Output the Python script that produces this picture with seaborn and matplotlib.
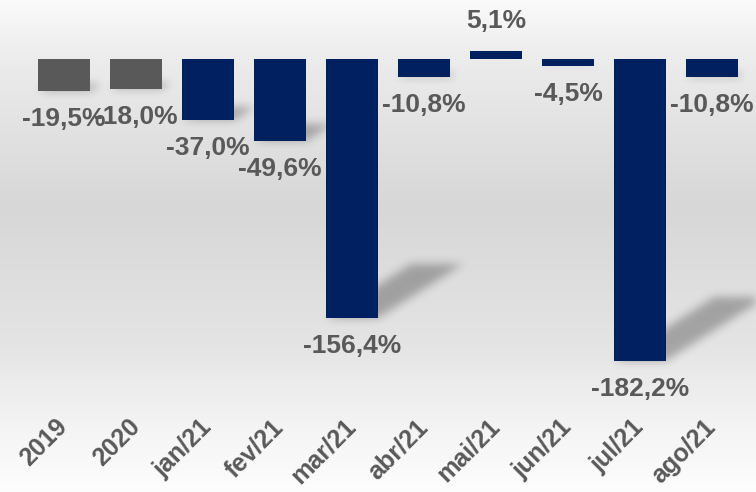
import numpy as np
import pandas as pd
import matplotlib
matplotlib.use("Agg")
import matplotlib.pyplot as plt
import seaborn as sns

categories = ["2019", "2020", "jan/21", "fev/21", "mar/21", "abr/21",
              "mai/21", "jun/21", "jul/21", "ago/21"]
values = [-19.5, -18.0, -37.0, -49.6, -156.4, -10.8, 5.1, -4.5, -182.2, -10.8]
bar_colors = ["#595959", "#595959", "#002060", "#002060", "#002060", "#002060",
              "#002060", "#002060", "#002060", "#002060"]

sns.set_style("white")
plt.rcParams["font.family"] = ["Liberation Sans", "DejaVu Sans"]

TEXT = "#595959"
fig = plt.figure(figsize=(7.56, 4.92), dpi=100)

# background gradient
bg = fig.add_axes([0, 0, 1, 1], zorder=0)
stops_pos = [0.0, 0.12, 0.42, 0.7, 0.88, 1.0]
stops_val = [250, 236, 215, 228, 245, 253]
yy = np.linspace(0, 1, 492)
g = np.interp(yy, stops_pos, stops_val) / 255.0
grad = np.repeat(g[:, None], 4, axis=1)
bg.imshow(np.dstack([grad, grad, grad]), aspect="auto", extent=(0, 1, 0, 1),
          origin="upper", interpolation="bilinear")
bg.set_axis_off()

ax = fig.add_axes([0, 112 / 492, 1, 380 / 492], zorder=1)
ax.patch.set_alpha(0)

df = pd.DataFrame({"cat": categories, "val": values})
bar_w = 0.72
sns.barplot(data=df, x="cat", y="val", hue="cat", palette=bar_colors,
            legend=False, width=bar_w, saturation=1, ax=ax, zorder=3,
            linewidth=0, edgecolor="none")

XLIM = (-0.889, 9.611)
YLIM = (-193.8, 35.6)
ax.set_xlim(*XLIM)
ax.set_ylim(*YLIM)

# perspective shadows
bbox = ax.get_window_extent()
W, H = int(round(bbox.width)), int(round(bbox.height))
X = bbox.x0 + np.arange(W) + 0.5
Y = bbox.y1 - (np.arange(H) + 0.5)
XX, YY = np.meshgrid(X, Y)
mask = np.zeros((H, W))
for i, v in enumerate(values):
    if v >= 0:
        continue
    xl, yb = ax.transData.transform((i - bar_w / 2, v))
    xr, y0 = ax.transData.transform((i + bar_w / 2, 0))
    h = y0 - yb
    dx, dy = 0.33 * h, 0.21 * h
    t = (YY - yb) / dy
    inside = (t >= 0) & (t <= 1) & (XX >= xl + t * dx) & (XX <= xr + t * dx)
    mask = np.maximum(mask, inside.astype(float))

def blur(a, sigma):
    r = int(3 * sigma)
    k = np.exp(-np.arange(-r, r + 1) ** 2 / (2 * sigma ** 2))
    k /= k.sum()
    p = np.pad(a, ((0, 0), (r, r)))
    out = sum(k[j] * p[:, j:j + a.shape[1]] for j in range(2 * r + 1))
    p = np.pad(out, ((r, r), (0, 0)))
    out = sum(k[j] * p[j:j + a.shape[0], :] for j in range(2 * r + 1))
    return out

shadow = blur(mask, 4.5)
rgba = np.zeros((H, W, 4))
rgba[..., 3] = shadow * 0.28
ax.imshow(rgba, extent=(*XLIM, *YLIM), origin="upper",
          aspect="auto", zorder=1, interpolation="bilinear")
ax.set_xlim(*XLIM)
ax.set_ylim(*YLIM)

# data labels
for i, v in enumerate(values):
    txt = f"{v:.1f}%".replace(".", ",")
    off = -20 if v < 0 else 21
    ax.annotate(txt, (i, v), xytext=(0, off), textcoords="offset points",
                ha="center", va="center", fontsize=19, fontweight="bold",
                color=TEXT, zorder=5)

ax.set_xlabel("")
ax.set_ylabel("")
ax.set_yticks([])
ax.set_xticks(range(len(categories)))
ax.set_xticklabels(categories, rotation=45, ha="right", va="center",
                   rotation_mode="anchor", fontsize=18, fontweight="bold",
                   color=TEXT)
ax.tick_params(axis="x", length=0, pad=31)
for s in ax.spines.values():
    s.set_visible(False)

fig.savefig("out.png", dpi=100)
